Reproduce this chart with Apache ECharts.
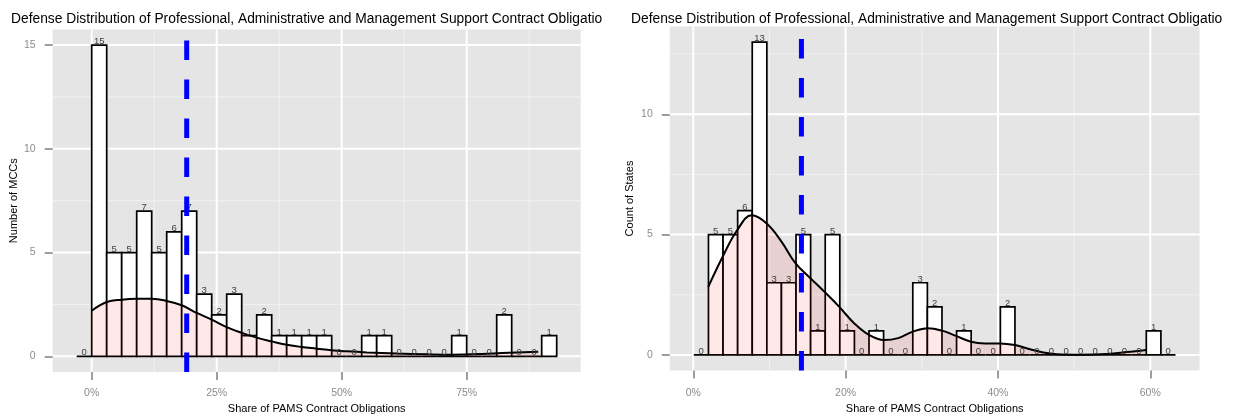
<!DOCTYPE html>
<html>
<head>
<meta charset="utf-8">
<script src="https://cdn.jsdelivr.net/npm/echarts@6/dist/echarts.min.js"></script>
<style>
  html, body { margin: 0; padding: 0; background: #ffffff; }
  #chart { width: 1237px; height: 415px; }
</style>
</head>
<body>
<div id="chart"></div>
<script>
// ---- shared text ----
const titleText = 'Defense Distribution of Professional, Administrative and Management Support Contract Obligations';
const xTitle = 'Share of PAMS Contract Obligations';

// ---- MCC histogram (share in %, 3-point bins) ----
const mccBinStart = -3;
const mccBinWidth = 3;
const mccCounts = [0, 15, 5, 5, 7, 5, 6, 7, 3, 2, 3, 1, 2, 1, 1, 1, 1, 0, 0, 1, 1, 0, 0, 0, 0, 1, 0, 0, 2, 0, 0, 1];
const mccDensityX = [0, 3, 6, 9, 12, 15, 18, 21, 24, 27, 30, 33, 36, 39, 42, 45, 48, 51, 55, 61, 67, 72, 78, 82, 85, 89.3];
const mccDensityY = [2.2, 2.62, 2.73, 2.77, 2.77, 2.67, 2.46, 2.09, 1.77, 1.41, 1.13, 0.9, 0.72, 0.56, 0.45, 0.37, 0.29, 0.24, 0.19, 0.14, 0.1, 0.08, 0.11, 0.16, 0.19, 0.22];
const mccMean = 19;
const mccXTicks = [0, 25, 50, 75];
const mccXMinor = [12.5, 37.5, 62.5, 87.5];
const mccYTicks = [0, 5, 10, 15];
const mccYMinor = [2.5, 7.5, 12.5];

// ---- State histogram ----
const stateBinStart = 0.08;
const stateBinWidth = 1.916;
const stateCounts = [0, 5, 5, 6, 13, 3, 3, 5, 1, 5, 1, 0, 1, 0, 0, 3, 2, 0, 1, 0, 0, 2, 0, 0, 0, 0, 0, 0, 0, 0, 0, 1, 0];
const stateDensityX = [1.97, 3.86, 5.78, 7.67, 9.64, 11.6, 13.44, 15.41, 17.2, 19.17, 21.14, 23.07, 25.04, 26.9, 28.75, 30.8, 32.65, 34.49, 36.46, 38.3, 40.27, 42.24, 44.2, 45.95, 47.7, 50.77, 54.27, 56.9, 59.43];
const stateDensityY = [2.83, 4.08, 5.19, 5.8, 5.46, 4.70, 3.80, 3.18, 2.63, 2.0, 1.31, 0.83, 0.62, 0.7, 0.96, 1.11, 1.01, 0.79, 0.55, 0.48, 0.48, 0.41, 0.24, 0.10, 0.03, 0.01, 0.04, 0.12, 0.21];
const stateMean = 14.2;
const stateXTicks = [0, 20, 40, 60];
const stateXMinor = [10, 30, 50];
const stateYTicks = [0, 5, 10];
const stateYMinor = [2.5, 7.5, 12.5];

const FONT = '"Liberation Sans", Arial, sans-serif';

// panel layout and axis ranges
const panels = [
  {
    grid: { left: 52.7, top: 29.5, width: 528, height: 342.4 },
    xRange: [-7.8, 97.8], yRange: [-0.75, 15.75],
    titleLeft: 11, yName: 'Number of MCCs', yNameGap: 33, xNameGap: 30, xLabelMargin: 16,
    binStart: mccBinStart, binWidth: mccBinWidth, counts: mccCounts,
    densX: mccDensityX, densY: mccDensityY, mean: mccMean,
    xTicks: mccXTicks, xMinor: mccXMinor, yTicks: mccYTicks, yMinor: mccYMinor
  },
  {
    grid: { left: 669.8, top: 26.4, width: 529.7, height: 344.2 },
    xRange: [-3.08, 66.46], yRange: [-0.65, 13.65],
    titleLeft: 631, yName: 'Count of States', yNameGap: 34, xNameGap: 31, xLabelMargin: 17,
    binStart: stateBinStart, binWidth: stateBinWidth, counts: stateCounts,
    densX: stateDensityX, densY: stateDensityY, mean: stateMean,
    xTicks: stateXTicks, xMinor: stateXMinor, yTicks: stateYTicks, yMinor: stateYMinor
  }
];

function gridLineItem(params, api) {
  const vertical = api.value(0) === 1;
  const v = api.value(1);
  const major = api.value(2) === 1;
  const cs = params.coordSys;
  let shape;
  if (vertical) {
    const x = api.coord([v, 0])[0];
    shape = { x1: x, y1: cs.y, x2: x, y2: cs.y + cs.height };
  } else {
    const y = api.coord([0, v])[1];
    shape = { x1: cs.x, y1: y, x2: cs.x + cs.width, y2: y };
  }
  return {
    type: 'line', shape: shape,
    style: { stroke: major ? '#ffffff' : '#f2f2f2', lineWidth: major ? 2 : 1 }
  };
}

function barItem(params, api) {
  const p0 = api.coord([api.value(0), 0]);
  const p1 = api.coord([api.value(1), api.value(2)]);
  return {
    type: 'rect',
    shape: { x: p0[0], y: p1[1], width: p1[0] - p0[0], height: p0[1] - p1[1] },
    style: { fill: '#ffffff', stroke: '#000000', lineWidth: 1.7 }
  };
}

function labelItem(params, api) {
  const p = api.coord([(api.value(0) + api.value(1)) / 2, api.value(2)]);
  return {
    type: 'text', x: p[0], y: p[1] + 1.5,
    style: {
      text: String(api.value(2)), fill: '#3d3d3d',
      fontSize: 9.5, fontFamily: FONT, align: 'center', verticalAlign: 'bottom'
    }
  };
}

const option = {
  animation: false,
  backgroundColor: '#ffffff',
  title: [], grid: [], xAxis: [], yAxis: [], series: []
};

panels.forEach(function (pn, k) {
  option.title.push({
    text: titleText, left: pn.titleLeft, top: 12, padding: 0,
    textStyle: {
      fontSize: 13.8, fontWeight: 'normal', color: '#000000', fontFamily: FONT,
      width: 595, overflow: 'truncate', ellipsis: ''
    }
  });
  option.grid.push(Object.assign({
    show: true, backgroundColor: '#e5e5e5', borderWidth: 0,
    containLabel: false, outerBoundsMode: 'none'
  }, pn.grid));
  option.xAxis.push({
    type: 'value', gridIndex: k, min: pn.xRange[0], max: pn.xRange[1],
    name: xTitle, nameLocation: 'middle', nameGap: pn.xNameGap,
    nameTextStyle: { fontSize: 11, color: '#000000', fontFamily: FONT },
    axisLine: { show: false, onZero: false },
    axisTick: { show: true, customValues: pn.xTicks, length: 8, lineStyle: { color: '#7f7f7f', width: 1.5 } },
    axisLabel: {
      customValues: pn.xTicks, margin: pn.xLabelMargin, fontSize: 10.5, color: '#8c8c8c', fontFamily: FONT,
      formatter: function (v) { return v + '%'; }
    },
    splitLine: { show: false }
  });
  option.yAxis.push({
    type: 'value', gridIndex: k, min: pn.yRange[0], max: pn.yRange[1],
    name: pn.yName, nameLocation: 'middle', nameGap: pn.yNameGap,
    nameTextStyle: { fontSize: 11, color: '#000000', fontFamily: FONT },
    axisLine: { show: false, onZero: false },
    axisTick: { show: true, customValues: pn.yTicks, length: 8, lineStyle: { color: '#7f7f7f', width: 1.5 } },
    axisLabel: { customValues: pn.yTicks, margin: 17, fontSize: 10.5, color: '#8c8c8c', fontFamily: FONT },
    splitLine: { show: false }
  });

  // background grid lines: [vertical?, value, major?]
  const gl = [];
  pn.xTicks.forEach(function (v) { gl.push([1, v, 1]); });
  pn.xMinor.forEach(function (v) { gl.push([1, v, 0]); });
  pn.yTicks.forEach(function (v) { gl.push([0, v, 1]); });
  pn.yMinor.forEach(function (v) { gl.push([0, v, 0]); });
  // minor lines first so major lines sit on top
  gl.sort(function (a, b) { return a[2] - b[2]; });

  const bins = pn.counts.map(function (c, i) {
    return [pn.binStart + i * pn.binWidth, pn.binStart + (i + 1) * pn.binWidth, c];
  });
  const dens = pn.densX.map(function (x, i) { return [x, pn.densY[i]]; });

  option.series.push(
    {
      type: 'custom', name: 'grid' + k, xAxisIndex: k, yAxisIndex: k, z: 0, silent: true,
      renderItem: gridLineItem, data: gl, encode: { x: 1, y: 1 }
    },
    {
      type: 'custom', name: 'bins' + k, xAxisIndex: k, yAxisIndex: k, z: 1, silent: true,
      renderItem: barItem, data: bins, encode: { x: [0, 1], y: 2 }
    },
    {
      type: 'line', name: 'density' + k, xAxisIndex: k, yAxisIndex: k, z: 2, silent: true,
      data: dens, smooth: 0.4, symbol: 'none',
      lineStyle: { color: '#000000', width: 2 },
      areaStyle: { color: 'rgba(255,0,0,0.13)' }
    },
    {
      type: 'custom', name: 'labels' + k, xAxisIndex: k, yAxisIndex: k, z: 3, silent: true,
      renderItem: labelItem, data: bins, encode: { x: [0, 1], y: 2 }
    },
    {
      type: 'line', name: 'mean' + k, xAxisIndex: k, yAxisIndex: k, z: 4, silent: true,
      data: [[pn.mean, pn.yRange[0]], [pn.mean, pn.yRange[1]]], symbol: 'none',
      lineStyle: { color: '#0000ff', width: 5, type: [19.5, 19.5] }
    }
  );
});

const chart = echarts.init(document.getElementById('chart'), null, { renderer: 'canvas' });
chart.setOption(option);
</script>
</body>
</html>
